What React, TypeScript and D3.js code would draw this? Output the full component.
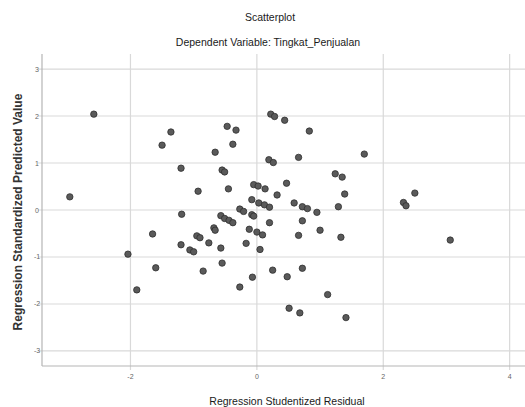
import React from 'react';
import { scaleLinear } from 'd3';

// studentized residual (x) vs standardized predicted value (y)
const residuals = [
  -2.96, -2.58, -2.04, -1.90, -1.65, -1.60, -1.50, -1.36, -1.20, -1.19,
  -1.20, -1.06, -1.00, -0.95, -0.90, -0.93, -0.85, -0.76, -0.68, -0.66,
  -0.66, -0.57, -0.55, -0.57, -0.51, -0.44, -0.38, -0.55, -0.51, -0.47,
  -0.33, -0.38, -0.45, -0.27, -0.21, -0.08, -0.05, -0.27, -0.17, -0.12,
  -0.07, -0.05, 0.02, 0.13, -0.08, 0.03, 0.12, 0.20, 0.00, 0.09,
  0.05, 0.20, 0.25, 0.19, 0.26, 0.22, 0.28, 0.44, 0.32, 0.47,
  0.48, 0.51, 0.59, 0.66, 0.66, 0.68, 0.72, 0.80, 0.72, 0.72,
  0.83, 0.95, 1.00, 1.12, 1.24, 1.35, 1.39, 1.29, 1.33, 1.41,
  1.70, 2.32, 2.36, 2.50, 3.06,
];
const predicted = [
  0.28, 2.04, -0.94, -1.70, -0.51, -1.23, 1.38, 1.66, 0.89, -0.09,
  -0.74, -0.85, -0.89, -0.55, -0.59, 0.40, -1.30, -0.70, -0.38, -0.43,
  1.23, -0.81, -1.13, -0.12, -0.18, -0.22, -0.27, 0.85, 0.81, 1.78,
  1.70, 1.40, 0.45, 0.02, -0.03, -0.10, -0.13, -1.64, -0.71, -0.41,
  -1.43, 0.54, 0.51, 0.45, 0.22, 0.15, 0.11, 0.06, -0.47, -0.53,
  -0.84, -0.27, -1.28, 1.07, 1.01, 2.04, 1.99, 1.91, 0.32, 0.57,
  -1.42, -2.09, 0.15, 1.12, -0.54, -2.19, 0.07, 0.03, -0.23, -1.24,
  1.68, -0.05, -0.43, -1.80, 0.77, 0.70, 0.34, 0.07, -0.58, -2.29,
  1.19, 0.16, 0.09, 0.36, -0.64,
];
const xTicks = [-2, 0, 2, 4];
const yTicks = [-3, -2, -1, 0, 1, 2, 3];

const title = 'Scatterplot';
const subtitle = 'Dependent Variable: Tingkat_Penjualan';
const xLabel = 'Regression Studentized Residual';
const yLabel = 'Regression Standardized Predicted Value';

const W = 525;
const H = 407;

export default function App() {
  const x = scaleLinear().domain([-3.4, 4.3]).range([42, 528.6]);
  const y = scaleLinear().domain([-3.32, 3.32]).range([366, 54]);
  const [top, bottom] = [y.range()[1], y.range()[0]];
  const left = x.range()[0];
  const font = '"Liberation Sans", Arial, sans-serif';

  return (
    <div style={{ position: 'absolute', left: 0, top: 0 }}>
      <svg width={W} height={H} style={{ display: 'block', background: '#fff' }}>
        <text x={270} y={21} textAnchor="middle" fontFamily={font} fontSize={10.5} fill="#1a1a1a">{title}</text>
        <text x={268} y={46} textAnchor="middle" fontFamily={font} fontSize={10.5} fill="#1a1a1a">{subtitle}</text>

        {/* grid */}
        {yTicks.map(t => (
          <line key={'gy' + t} x1={left - 4} x2={W} y1={y(t)} y2={y(t)} stroke="#d9d9d9" strokeWidth={1.2} />
        ))}
        {xTicks.map(t => (
          <line key={'gx' + t} x1={x(t)} x2={x(t)} y1={top} y2={bottom + 4} stroke="#d9d9d9" strokeWidth={1.2} />
        ))}
        {/* axes */}
        <line x1={left} x2={left} y1={top} y2={bottom} stroke="#b5b5b5" strokeWidth={1.2} />
        <line x1={left} x2={W} y1={bottom} y2={bottom} stroke="#b5b5b5" strokeWidth={1.2} />

        {yTicks.map(t => (
          <text key={'ly' + t} x={37} y={y(t) + 2.5} textAnchor="middle" fontFamily={font} fontSize={7} fill="#666">{t}</text>
        ))}
        {xTicks.map(t => (
          <text key={'lx' + t} x={x(t)} y={379} textAnchor="middle" fontFamily={font} fontSize={7} fill="#666">{t}</text>
        ))}

        <text x={287} y={405} textAnchor="middle" fontFamily={font} fontSize={10.5} fill="#1a1a1a">{xLabel}</text>
        <text transform={`translate(22,${(top + bottom) / 2 + 2}) rotate(-90)`} textAnchor="middle"
          fontFamily={font} fontSize={12} fontWeight="bold" fill="#333">{yLabel}</text>

        {residuals.map((r, i) => (
          <circle key={i} cx={x(r)} cy={y(predicted[i])} r={3.2} fill="#5a5a5a" stroke="#2e2e2e" strokeWidth={0.8} />
        ))}
      </svg>
    </div>
  );
}
